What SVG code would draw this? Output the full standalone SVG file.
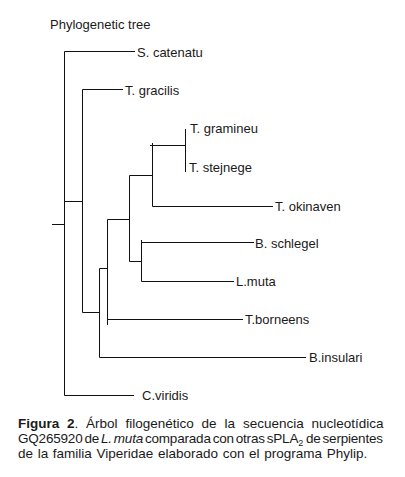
<svg xmlns="http://www.w3.org/2000/svg" width="405" height="477" viewBox="0 0 405 477">
<style>
text{font-family:"Liberation Sans",Arial,sans-serif;font-size:13px;fill:#1a1a1a}
.cap{font-size:13.5px}
.br{stroke:#111;stroke-width:1;fill:none}
</style>
<rect width="405" height="477" fill="#fff"/>
<text x="50" y="28.5" font-size="13.3">Phylogenetic tree</text>
<g id="connectors" class="br">
<path d="M52,224.5H64.5"/>
<path d="M64.5,51.5V395.5"/>
<path d="M64.5,51.5H135"/>
<path d="M64.5,395.5H134"/>
<path d="M64.5,201.5H82.5"/>
<path d="M82.5,89.5V312.5"/>
<path d="M82.5,89.5H123"/>
<path d="M82.5,312.5H100"/>
<path d="M99.5,268.5V357.5"/>
<path d="M99.5,357.5H306"/>
<path d="M99.5,268.5H108"/>
<path d="M107.5,219.5V325"/>
<path d="M107.5,319.5H243"/>
<path d="M107.5,219.5H129.5"/>
<path d="M129.5,175.5V261.5"/>
<path d="M129.5,175.5H152.5"/>
<path d="M152.5,143V206.5"/>
<path d="M150,145.5H186"/>
<path d="M152.5,206.5H273"/>
<path d="M185.5,129V172"/>
<path d="M129.5,261.5H141.5"/>
<path d="M141.5,240V281.5"/>
<path d="M141.5,242.5H254"/>
<path d="M141.5,281.5H234"/>
</g>
<g id="n-scatenatu"><text x="137" y="56.5">S. catenatu</text></g>
<g id="n-tgracilis"><text x="125" y="94.5">T. gracilis</text></g>
<g id="n-tgramineu"><text x="190" y="133">T. gramineu</text></g>
<g id="n-tstejnege"><text x="189" y="171.5">T. stejnege</text></g>
<g id="n-tokinaven"><text x="275" y="211">T. okinaven</text></g>
<g id="n-bschlegel"><text x="255" y="247.5">B. schlegel</text></g>
<g id="n-lmuta"><text x="236" y="286">L.muta</text></g>
<g id="n-tborneens"><text x="245" y="324">T.borneens</text></g>
<g id="n-binsulari"><text x="309" y="362">B.insulari</text></g>
<g id="n-cviridis"><text x="142" y="400">C.viridis</text></g>
<g id="caption">
<text class="cap" y="427.5"><tspan x="18" font-weight="bold">Figura</tspan><tspan x="67" font-weight="bold">2</tspan><tspan>.</tspan><tspan x="86">Árbol</tspan><tspan x="125.5">filogenético</tspan><tspan x="201.5">de</tspan><tspan x="224.5">la</tspan><tspan x="243">secuencia</tspan><tspan x="311.5">nucleotídica</tspan></text>
<text class="cap" x="18" y="443" letter-spacing="-0.2" word-spacing="-1.6">GQ265920 de <tspan font-style="italic">L. muta</tspan> comparada con otras sPLA<tspan font-size="9" dy="3">2</tspan><tspan dx="1" dy="-3"> de serpientes</tspan></text>
<text class="cap" x="18" y="458" word-spacing="0.9">de la familia Viperidae elaborado con el programa Phylip.</text>
</g>
</svg>
